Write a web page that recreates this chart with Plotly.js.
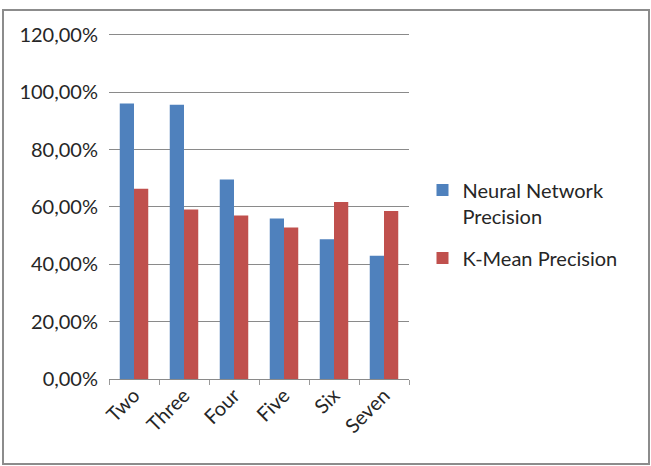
<!DOCTYPE html>
<html>
<head>
<meta charset="utf-8">
<script src="https://cdn.plot.ly/plotly-3.0.1.min.js"></script>
<style>
  html, body { margin: 0; padding: 0; background: #ffffff; }
  #wrap { position: relative; width: 651px; height: 466px; }
  #chart { width: 651px; height: 466px; }
  #frame {
    position: absolute; left: 2px; top: 9px; width: 644px; height: 452px;
    border: 2.5px solid #8c8c8c; pointer-events: none;
  }
</style>
</head>
<body>
<div id="wrap">
  <div id="chart"></div>
  <div id="frame"></div>
</div>
<script>
// Number of clusters
const categories = ["Two", "Three", "Four", "Five", "Six", "Seven"];

// Precision per clustering method (fraction of 1)
const neuralNetworkPrecision = [0.961, 0.956, 0.696, 0.560, 0.487, 0.430];
const kMeanPrecision = [0.663, 0.591, 0.570, 0.528, 0.617, 0.586];

// Y-axis tick values and their labels (comma decimal separator)
const yTickValues = [0, 0.2, 0.4, 0.6, 0.8, 1.0, 1.2];
const yTickLabels = ["0,00%", "20,00%", "40,00%", "60,00%", "80,00%", "100,00%", "120,00%"];

const fontFamily = "Lato, 'Open Sans', 'DejaVu Sans', sans-serif";
const textColor = "#262626";

const traces = [
  {
    type: "bar",
    name: "Neural Network<br>Precision",
    legendgroup: "nn",
    x: categories,
    y: neuralNetworkPrecision,
    marker: { color: "#4f81bd" },
    hoverinfo: "x+y"
  },
  {
    type: "bar",
    name: "K-Mean Precision",
    legendgroup: "km",
    x: categories,
    y: kMeanPrecision,
    marker: { color: "#c0504d" },
    hoverinfo: "x+y"
  }
];

const layout = {
  width: 651,
  height: 466,
  margin: { l: 109, r: 242, t: 32, b: 87 },
  paper_bgcolor: "#ffffff",
  plot_bgcolor: "#ffffff",
  barmode: "group",
  bargap: 0.43,
  bargroupgap: 0,
  font: { family: fontFamily, size: 20, color: textColor },
  showlegend: true,
  legend: {
    xref: "container", yref: "container",
    x: 0.649, y: 0.634,
    xanchor: "left", yanchor: "top",
    valign: "top",
    font: { family: fontFamily, size: 20, color: textColor },
    itemwidth: 30,
    tracegroupgap: 13,
    bgcolor: "rgba(0,0,0,0)"
  },
  xaxis: {
    type: "category",
    tickangle: -45,
    showgrid: false,
    showline: false,
    zeroline: false,
    ticks: "outside",
    tickson: "boundaries",
    ticklen: 5,
    tickcolor: "#9a9a9a",
    tickfont: { family: fontFamily, size: 20, color: textColor }
  },
  yaxis: {
    range: [0, 1.21],
    tickvals: yTickValues,
    ticktext: yTickLabels,
    showgrid: true,
    gridcolor: "#8a8a8a",
    gridwidth: 1,
    zeroline: true,
    zerolinecolor: "#8a8a8a",
    showline: false,
    ticks: "",
    ticklabelstandoff: 10,
    tickfont: { family: fontFamily, size: 20, color: textColor }
  }
};

Plotly.newPlot("chart", traces, layout, { displayModeBar: false, staticPlot: true });
</script>
</body>
</html>
